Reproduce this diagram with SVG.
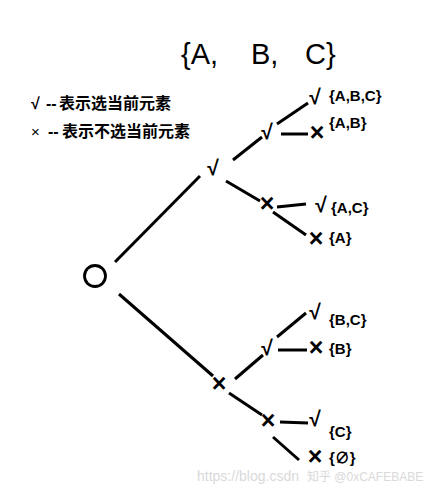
<svg xmlns="http://www.w3.org/2000/svg" width="440" height="495" viewBox="0 0 440 495">
  <style>
    .t { font-family: "Liberation Sans", "Noto Sans CJK SC", sans-serif; fill: #000; }
    .title { font-size: 29px; }
    .legend { font-size: 16px; font-weight: bold; }
    .ck { font-size: 21px; font-weight: bold; text-anchor: middle; }
    .cx { font-size: 25px; font-weight: bold; text-anchor: middle; }
    .lbl { font-size: 15px; font-weight: bold; }
    .wm { font-family: "Liberation Sans", "Noto Sans CJK SC", sans-serif; fill: #d9d9d9; font-size: 14px; }
    .wm2 { font-family: "Liberation Sans", "Noto Sans CJK SC", sans-serif; fill: #d9d9d9; font-size: 12px; }
    .edge { stroke: #000; stroke-width: 3; fill: none; }
  </style>
  <rect width="440" height="495" fill="#fff"/>

  <g id="title">
    <text class="t title" y="64"><tspan x="181">{A,</tspan><tspan x="251">B,</tspan><tspan x="305">C}</tspan></text>
  </g>

  <g id="legend">
    <text class="t legend" y="109"><tspan x="31">√</tspan><tspan x="46">--</tspan><tspan x="59">表示选当前元素</tspan></text>
    <text class="t legend" y="137"><tspan x="31" style="font-weight:normal;font-size:15px">×</tspan><tspan x="48">--</tspan><tspan x="62">表示不选当前元素</tspan></text>
  </g>

  <g id="connectors">
    <line class="edge" x1="115" y1="262" x2="200" y2="176"/>
    <line class="edge" x1="233" y1="160" x2="262" y2="137"/>
    <line class="edge" x1="277" y1="124" x2="308" y2="103"/>
    <line class="edge" x1="281" y1="134" x2="308" y2="134"/>
    <line class="edge" x1="226" y1="181" x2="260" y2="201"/>
    <line class="edge" x1="277" y1="207" x2="306" y2="204"/>
    <line class="edge" x1="273" y1="212" x2="306" y2="235"/>
    <line class="edge" x1="119" y1="294" x2="213" y2="376"/>
    <line class="edge" x1="235" y1="379" x2="263" y2="355"/>
    <line class="edge" x1="277" y1="337" x2="306" y2="313"/>
    <line class="edge" x1="278" y1="350" x2="307" y2="350"/>
    <line class="edge" x1="229" y1="393" x2="262" y2="415"/>
    <line class="edge" x1="280" y1="422" x2="308" y2="423"/>
    <line class="edge" x1="273" y1="437" x2="299" y2="460"/>
  </g>

  <g id="root"><circle cx="95" cy="276" r="10.5" fill="none" stroke="#000" stroke-width="2.8"/></g>

  <g id="a1"><text class="t ck" x="213" y="175">√</text></g>
  <g id="a2"><text class="t ck" x="267" y="139">√</text></g>
  <g id="leaf-ABC"><text class="t ck" x="315" y="104">√</text><text class="t lbl" x="329" y="101">{A,B,C}</text></g>
  <g id="leaf-AB"><text class="t cx" x="317" y="141">×</text><text class="t lbl" x="329" y="128">{A,B}</text></g>
  <g id="a3"><text class="t cx" x="267" y="212">×</text></g>
  <g id="leaf-AC"><text class="t ck" x="321" y="212">√</text><text class="t lbl" x="331" y="213">{A,C}</text></g>
  <g id="leaf-A"><text class="t cx" x="316" y="247">×</text><text class="t lbl" x="329" y="243">{A}</text></g>

  <g id="b1"><text class="t cx" x="219" y="392">×</text></g>
  <g id="b2"><text class="t ck" x="267" y="355">√</text></g>
  <g id="leaf-BC"><text class="t ck" x="315" y="319">√</text><text class="t lbl" x="329" y="325">{B,C}</text></g>
  <g id="leaf-B"><text class="t cx" x="316" y="356">×</text><text class="t lbl" x="329" y="354">{B}</text></g>
  <g id="b3"><text class="t cx" x="268" y="429">×</text></g>
  <g id="leaf-C"><text class="t ck" x="315" y="426">√</text><text class="t lbl" x="329" y="437">{C}</text></g>
  <g id="leaf-empty"><text class="t cx" x="315" y="465">×</text><text class="t lbl" x="329" y="463">{∅}</text></g>

  <g id="watermark">
    <text class="wm" x="197" y="481">https://blog.csdn</text>
    <text class="wm2" x="307" y="481">知乎 @0xCAFEBABE</text>
  </g>
</svg>
